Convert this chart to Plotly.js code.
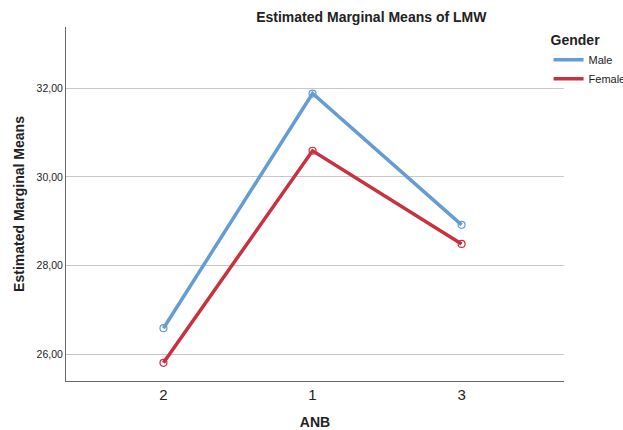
<!DOCTYPE html>
<html>
<head>
<meta charset="utf-8">
<script src="https://cdn.plot.ly/plotly-3.0.1.min.js"></script>
<style>html,body{margin:0;padding:0;background:#fff;}#chart{width:623px;height:430px;}</style>
</head>
<body>
<div id="chart"></div>
<script>
var categories = ['2', '1', '3'];
var maleValues = [26.59, 31.88, 28.92];
var femaleValues = [25.81, 30.59, 28.49];
var seriesNames = ['Male', 'Female'];
var yTickValues = [26, 28, 30, 32];
var yTickLabels = ['26,00', '28,00', '30,00', '32,00'];

var FONT = 'Liberation Sans, Arial, sans-serif';
var colors = ['rgb(101,156,211)', 'rgb(200,50,62)'];

function lineTrace(name, vals, color) {
  return {
    type: 'scatter', mode: 'lines', name: name,
    x: categories, y: vals,
    line: {color: color, width: 3.5},
    cliponaxis: false
  };
}
function markerTrace(name, vals, color) {
  return {
    type: 'scatter', mode: 'markers', name: name, showlegend: false,
    x: categories, y: vals,
    marker: {symbol: 'circle-open', size: 7, color: color, line: {width: 1.2, color: color}},
    cliponaxis: false
  };
}

var data = [
  lineTrace(seriesNames[0], maleValues, colors[0]),
  lineTrace(seriesNames[1], femaleValues, colors[1]),
  markerTrace(seriesNames[0], maleValues, colors[0]),
  markerTrace(seriesNames[1], femaleValues, colors[1])
];

var layout = {
  width: 623, height: 430,
  margin: {l: 66, r: 59, t: 27, b: 49, autoexpand: false},
  paper_bgcolor: '#fff', plot_bgcolor: '#fff',
  font: {family: FONT, color: '#222'},
  title: {text: '<b>Estimated Marginal Means of LMW</b>', font: {size: 14, family: FONT, color: '#222'},
          x: 0.596, xref: 'container', xanchor: 'center', y: 0.96, yref: 'container', yanchor: 'middle'},
  xaxis: {
    type: 'category', range: [-0.654, 2.687], fixedrange: true,
    showgrid: false, zeroline: false, showline: true, linecolor: '#666', linewidth: 1,
    ticks: '', tickfont: {size: 15, family: FONT, color: '#222'},
    title: {text: '<b>ANB</b>', font: {size: 14, family: FONT, color: '#222'}, standoff: 22}
  },
  yaxis: {
    range: [25.40, 33.38], fixedrange: true,
    tickvals: yTickValues, ticktext: yTickLabels,
    showgrid: true, gridcolor: '#c8c8c8', gridwidth: 1, zeroline: false,
    showline: true, linecolor: '#666', linewidth: 1,
    ticks: '', tickfont: {size: 10.5, family: FONT, color: '#222'},
    title: {text: '<b>Estimated Marginal Means</b>', font: {size: 14, family: FONT, color: '#222'}, standoff: 8}
  },
  showlegend: true,
  legend: {
    x: 0.969, xanchor: 'left', y: 1.0, yanchor: 'top', xref: 'paper', yref: 'paper',
    bgcolor: 'rgba(0,0,0,0)', borderwidth: 0,
    font: {size: 11, family: FONT, color: '#222'},
    title: {text: '<b>Gender</b>', font: {size: 14, family: FONT, color: '#222'}},
    itemwidth: 30, tracegroupgap: 0
  }
};

Plotly.newPlot('chart', data, layout, {displayModeBar: false, staticPlot: true});
</script>
</body>
</html>
